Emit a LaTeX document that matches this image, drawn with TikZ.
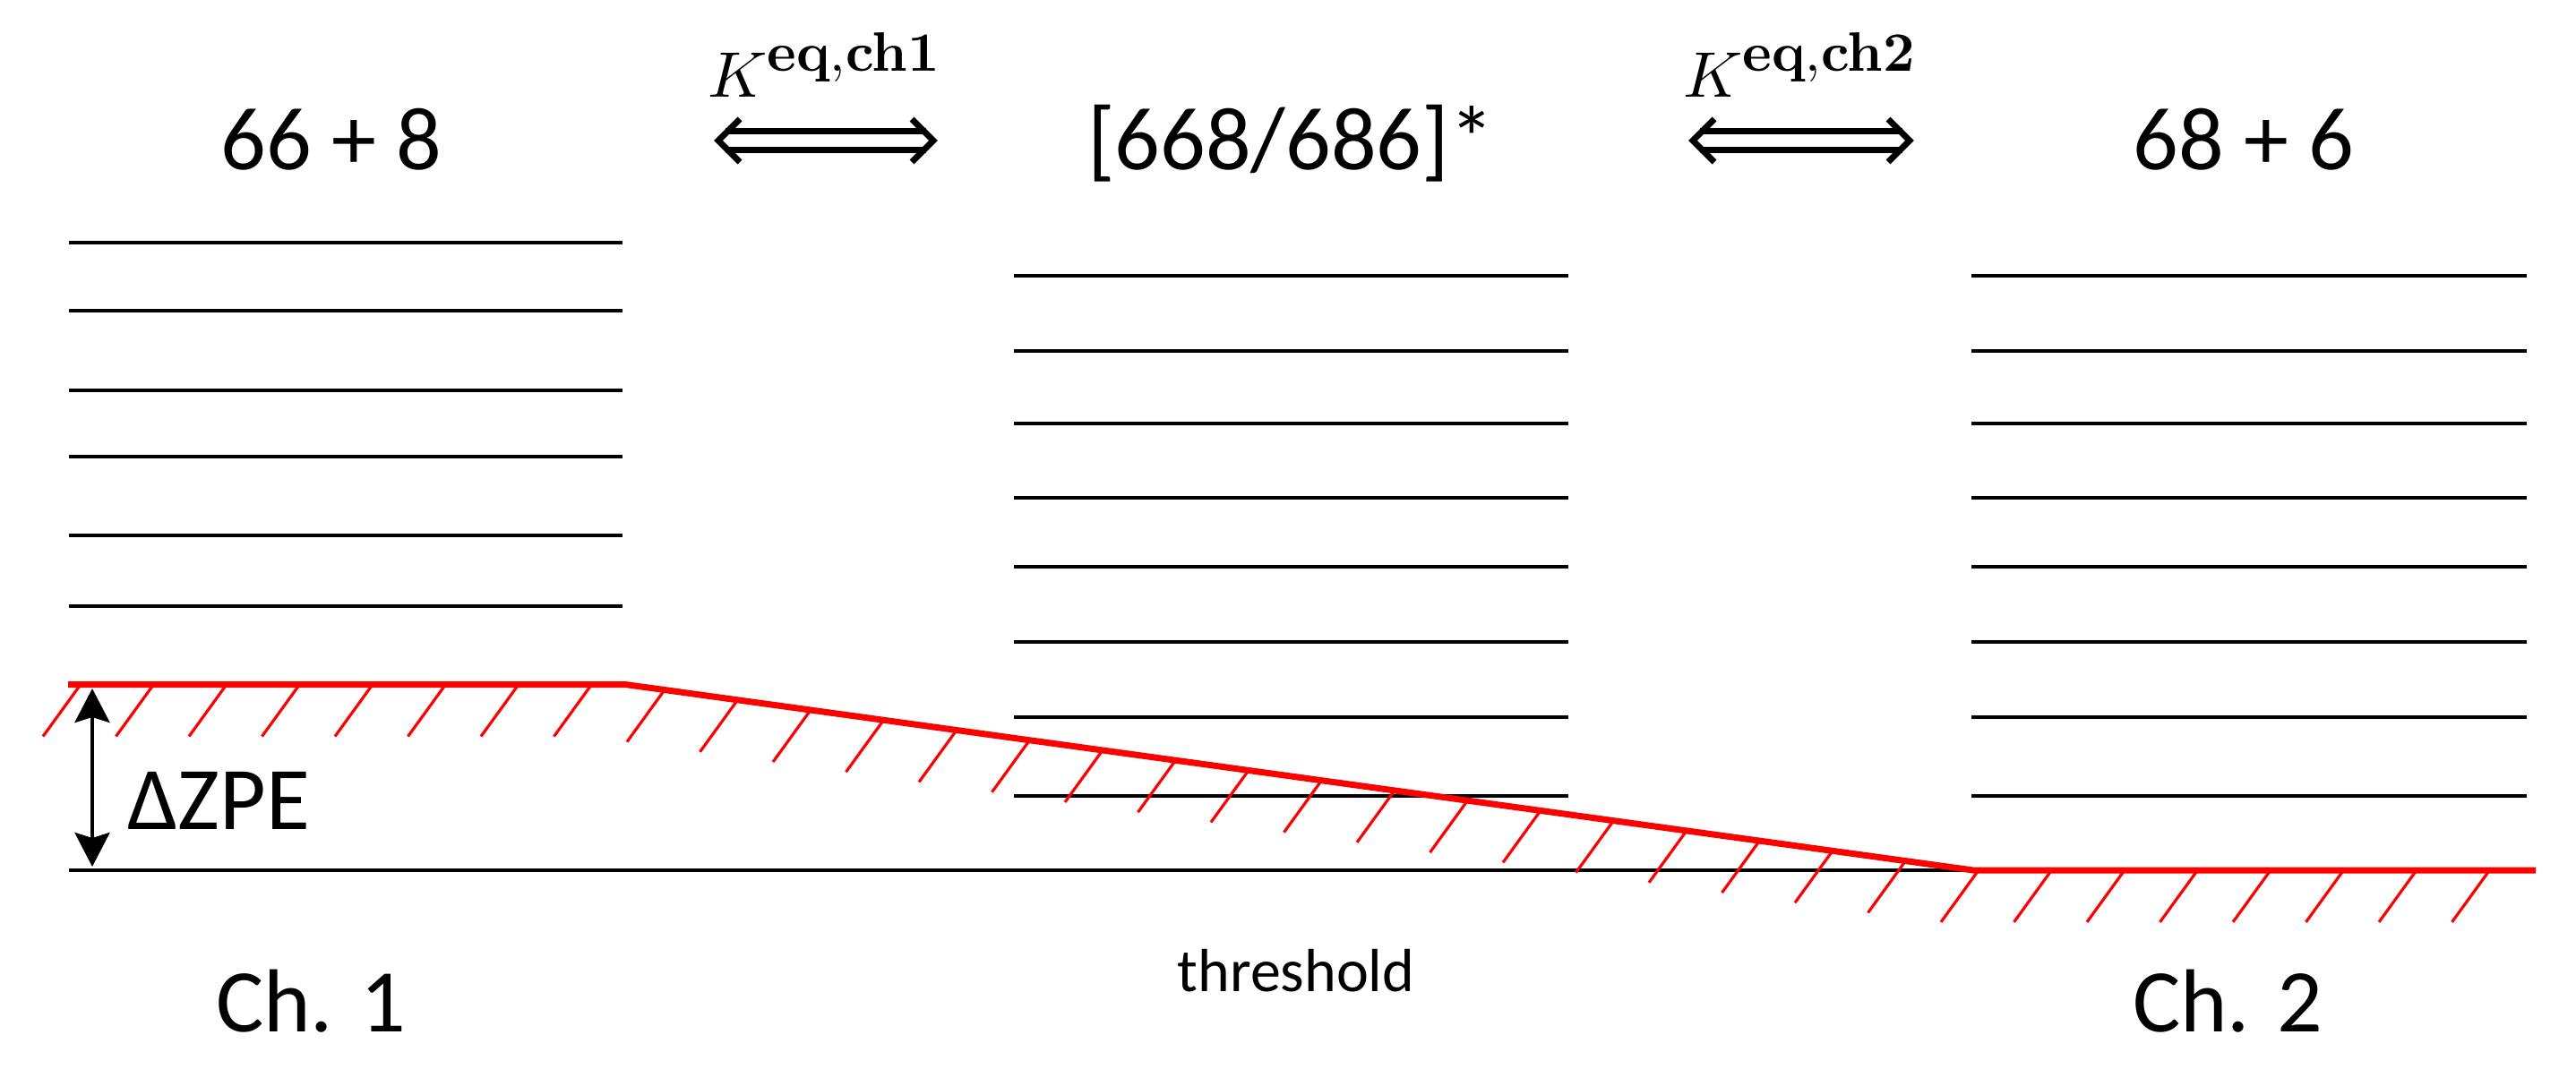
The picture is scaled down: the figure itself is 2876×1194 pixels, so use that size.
\documentclass[tikz,border=0pt]{standalone}
\usepackage[no-math]{fontspec}
\usepackage{graphicx}
\setmainfont{Carlito}
\usetikzlibrary{arrows.meta,calc}
\newcommand{\keqlabel}[1]{\scalebox{7.2}{$K$}\raisebox{29pt}{\scalebox{6.2}{$\mathbf{eq{,}ch#1}$}}}
\begin{document}
\begin{tikzpicture}[x=1pt,y=-1pt,
  lvl/.style={line width=4pt,black},
  redline/.style={line width=7pt,red,line join=bevel},
  hatch/.style={line width=3.2pt,red},
  dblline/.style={line width=7pt,line cap=butt,line join=miter},
  big/.style={font=\fontsize{100}{100}\selectfont,inner sep=0pt,anchor=base},
  klabel/.style={inner sep=0pt,anchor=base west},
  dimarrow/.style={line width=4.5pt,{Stealth[length=38pt,width=39pt,inset=6pt]}-{Stealth[length=38pt,width=39pt,inset=6pt]}}]
\useasboundingbox (0,0) rectangle (2876,1194);
% energy levels
\foreach \y [count=\i] in {271,347,436,510,598,677} {
  \coordinate (La\i) at (77,\y); \coordinate (Lb\i) at (695,\y);
  \draw[lvl] (La\i) -- (Lb\i);
}
\foreach \y [count=\i] in {308,392,473,556,633,717,801,889} {
  \coordinate (Ma\i) at (1132,\y); \coordinate (Mb\i) at (1751,\y);
  \draw[lvl] (Ma\i) -- (Mb\i);
  \coordinate (Ra\i) at (2201,\y); \coordinate (Rb\i) at (2821,\y);
  \draw[lvl] (Ra\i) -- (Rb\i);
}
% threshold baseline
\coordinate (b1) at (77,972);
\coordinate (r1) at (76,764.5);
\coordinate (r2) at (698,764.5);
\coordinate (r3) at (2203,972);
\coordinate (r4) at (2831,972);
\draw[lvl] (b1) -- (r3);
% hatches
\foreach \k in {0,...,33} {
  \pgfmathsetmacro\hx{90+81.5*\k}
  \pgfmathsetmacro\hy{764.5+0.1378*(min(max(\hx,698),2203)-698)}
  \draw[hatch] (\hx,\hy) -- ++(-42,58);
}
\draw[redline] (r1) -- (r2) -- (r3) -- (r4);
% Delta ZPE arrow
\coordinate (zt) at (103,769);
\coordinate (zb) at (103,968);
\draw[dimarrow] (zb) -- (zt);
\node[big] (dzpe) at (244,926) {ΔZPE};
% labels
\node[big] (c1) at (370,189) {66 + 8};
\node[big] (c2) at (1441,189) {[668/686]*};
\node[big] (c3) at (2505,189) {68 + 6};
\node[big] (ch1) at (347,1152) {Ch. 1};
\node[big] (ch2) at (2487,1152) {Ch. 2};
\node[font=\fontsize{68}{68}\selectfont,inner sep=0pt,anchor=base] (thr) at (1447,1107) {threshold};
% K labels
\node[klabel] (k1) at (790,108) {\keqlabel{1}};
\node[klabel] (k2) at (1879,108) {\keqlabel{2}};
% double arrows
\coordinate (a1l) at (802,157); \coordinate (a1r) at (1042,157);
\coordinate (a2l) at (1890,157); \coordinate (a2r) at (2132,157);
\foreach \a in {a1,a2} {
  \draw[dblline] ($(\a l)+(8,-10.8)$) -- ($(\a r)+(-8,-10.8)$);
  \draw[dblline] ($(\a l)+(8,10.8)$) -- ($(\a r)+(-8,10.8)$);
  \draw[dblline] ($(\a l)+(24,-24)$) -- (\a l) -- ($(\a l)+(24,24)$);
  \draw[dblline] ($(\a r)+(-24,-24)$) -- (\a r) -- ($(\a r)+(-24,24)$);
}
\end{tikzpicture}
\end{document}
